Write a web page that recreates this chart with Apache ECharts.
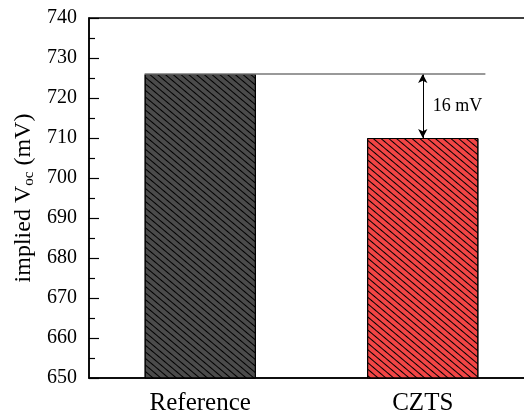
<!DOCTYPE html>
<html>
<head>
<meta charset="utf-8">
<script src="https://cdn.jsdelivr.net/npm/echarts@6/dist/echarts.min.js"></script>
<style>
  html, body { margin: 0; padding: 0; background: #fff; overflow: hidden; }
  #chart { width: 524px; height: 412px; }
</style>
</head>
<body>
<div id="chart"></div>
<script>
// Samples and their implied open-circuit voltage (mV)
const categories = ['Reference', 'CZTS'];
const vocValues = [726, 710];
const barColors = ['#4b4b4b', '#f24545'];
const yMin = 650, yMax = 740, yStep = 10;

const FONT = '"Liberation Serif", "Times New Roman", serif';

const hatch = {
  symbol: 'rect',
  symbolSize: 1,
  dashArrayX: [1, 0],
  dashArrayY: [1, 4],
  rotation: 0.7,
  color: '#000'
};

const chart = echarts.init(document.getElementById('chart'), null, { renderer: 'canvas' });

chart.setOption({
  animation: false,
  backgroundColor: '#fff',
  grid: {
    left: 89, width: 445, top: 18, bottom: 34,
    outerBoundsMode: 'none',
    containLabel: false,
    show: true, borderColor: '#000', borderWidth: 1.5, backgroundColor: 'transparent'
  },
  xAxis: {
    type: 'category',
    data: categories,
    axisLine: { lineStyle: { color: '#000', width: 1.5 } },
    axisTick: { show: false },
    axisLabel: { color: '#000', fontFamily: FONT, fontSize: 25, margin: 13 }
  },
  yAxis: {
    type: 'value',
    min: yMin, max: yMax, interval: yStep,
    name: '{t|implied V}{s|oc}{t| (mV)}',
    nameLocation: 'middle',
    nameRotate: 90,
    nameGap: 50,
    nameTextStyle: {
      rich: {
        t: { fontFamily: FONT, fontSize: 24, color: '#000' },
        s: { fontFamily: FONT, fontSize: 15, color: '#000', verticalAlign: 'bottom', padding: [10, 0, 0, 0] }
      }
    },
    axisLine: { show: true, lineStyle: { color: '#000', width: 1.5 } },
    axisTick: { show: true, inside: true, length: 10, lineStyle: { color: '#000', width: 1.2 } },
    minorTick: { show: true, splitNumber: 2, length: 6, lineStyle: { color: '#000', width: 1.2 } },
    splitLine: { show: false },
    axisLabel: { color: '#000', fontFamily: FONT, fontSize: 20, margin: 12 }
  },
  series: [{
    type: 'bar',
    barWidth: '50%',
    data: vocValues.map((v, i) => ({
      value: v,
      itemStyle: { color: barColors[i], borderColor: '#000', borderWidth: 1, decal: hatch }
    })),
    markLine: {
      silent: true,
      symbol: ['arrow', 'arrow'],
      symbolSize: [7, 9],
      lineStyle: { color: '#000', width: 1, type: 'solid' },
      label: { show: false },
      data: [[
        { coord: [categories[1], vocValues[0]] },
        { coord: [categories[1], vocValues[1]] }
      ]]
    }
  }]
});

// Reference level line and the voltage-gap label
function drawAnnotations() {
  const p0 = chart.convertToPixel({ seriesIndex: 0 }, [categories[0], vocValues[0]]);
  const p1 = chart.convertToPixel({ seriesIndex: 0 }, [categories[1], vocValues[1]]);
  const band = p1[0] - p0[0];
  const half = band * 0.25;
  const yTop = p0[1];
  const yMid = (p0[1] + p1[1]) / 2;
  chart.setOption({
    graphic: [
      {
        type: 'line',
        shape: { x1: p0[0] - half, y1: yTop, x2: p1[0] + half + 7, y2: yTop },
        style: { stroke: '#777', lineWidth: 1.5 },
        z: 10
      },
      {
        type: 'text',
        x: p1[0] + 10, y: yMid,
        style: {
          text: (vocValues[0] - vocValues[1]) + ' mV',
          font: '18px ' + FONT,
          fill: '#000',
          verticalAlign: 'middle'
        },
        z: 10
      }
    ]
  });
}
drawAnnotations();
</script>
</body>
</html>
